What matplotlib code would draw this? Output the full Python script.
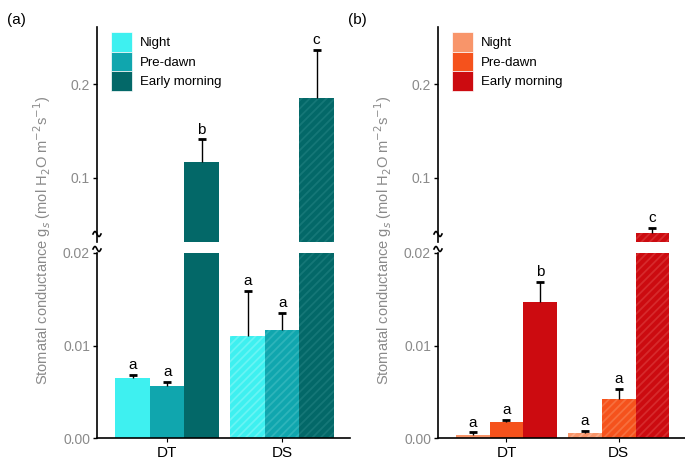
import numpy as np
import matplotlib
matplotlib.use('Agg')
import matplotlib.pyplot as plt
from matplotlib.patches import Patch
from matplotlib.lines import Line2D

plt.rcParams['font.family'] = ['Liberation Sans', 'DejaVu Sans']
plt.rcParams['hatch.linewidth'] = 1.3

# data
groups = ['DT', 'DS']
series = ['Night', 'Pre-dawn', 'Early morning']

a_vals = [[0.0065, 0.0056, 0.117], [0.0110, 0.0117, 0.185]]
a_errs = [[0.0068, 0.0061, 0.141], [0.0159, 0.0135, 0.2366]]
a_letters = [['a', 'a', 'b'], ['a', 'a', 'c']]

b_vals = [[0.0003, 0.0017, 0.0147], [0.0005, 0.0042, 0.0409]]
b_errs = [[0.0006, 0.0020, 0.0169], [0.0008, 0.0053, 0.0462]]
b_letters = [['a', 'a', 'b'], ['a', 'a', 'c']]

a_colors = ['#3ef0f0', '#10a6ae', '#036868']
a_hatch = ['#68f4f4', '#2eb4ba', '#157777']
b_colors = ['#f8956a', '#f5521c', '#cc0b10']
b_hatch = ['#faab88', '#f76f3d', '#d62a2c']

W, H = 685, 466
fig = plt.figure(figsize=(W / 100, H / 100), dpi=100)

LOW = (0, 0.02)
HIGH = (0.0312, 0.2613)
width = 0.3
grey = '#8a8a8a'


def px(x0, x1, y_top, y_bot):
    return [x0 / W, 1 - y_bot / H, (x1 - x0) / W, (y_bot - y_top) / H]


def panel(x0, x1, vals, errs, letters, colors, hatchc, label, label_x):
    ax_lo = fig.add_axes(px(x0, x1, 253, 438))
    ax_hi = fig.add_axes(px(x0, x1, 27, 242))
    for gi, g in enumerate(groups):
        for si in range(3):
            x = gi + (si - 1) * width
            v, e = vals[gi][si], errs[gi][si]
            for ax in (ax_lo, ax_hi):
                if gi == 1:
                    ax.bar(x, v, width, color=colors[si], edgecolor=hatchc[si],
                           linewidth=0, hatch='////')
                else:
                    ax.bar(x, v, width, color=colors[si], linewidth=0)
                ax.vlines(x, v, e, color='black', lw=1)
                ax.plot([x], [e], marker='_', ms=6, mew=2, color='black')
            tax = ax_hi if e > LOW[1] else ax_lo
            tax.annotate(letters[gi][si], (x, e), xytext=(0, 2),
                         textcoords='offset points', ha='center', va='bottom',
                         fontsize=11)
    for ax in (ax_lo, ax_hi):
        ax.set_xlim(-0.61, 1.59)
        ax.spines['top'].set_visible(False)
        ax.spines['right'].set_visible(False)
        ax.spines['left'].set_linewidth(1.2)
        ax.tick_params(axis='y', colors=grey, labelsize=10, length=3,
                       width=1, pad=2)
        ax.tick_params(axis='y', color='black')
    ax_lo.set_ylim(*LOW)
    ax_lo.set_yticks([0, 0.01, 0.02])
    ax_lo.set_yticklabels(['0.00', '0.01', '0.02'])
    ax_lo.set_xticks([0, 1])
    ax_lo.set_xticklabels(groups, fontsize=11)
    ax_lo.tick_params(axis='x', length=3, pad=3)
    ax_lo.spines['bottom'].set_linewidth(1.2)
    ax_hi.set_ylim(*HIGH)
    ax_hi.set_yticks([0.1, 0.2])
    ax_hi.set_yticklabels(['0.1', '0.2'])
    ax_hi.spines['bottom'].set_visible(False)
    ax_hi.set_xticks([])

    # break marks on the axis
    t = np.linspace(-1, 1, 30)
    for yc in (234, 249):
        xs = (x0 + 4 * t) / W
        ys = 1 - (yc + 2.5 * np.sin(np.pi * t)) / H
        fig.add_artist(Line2D(xs, ys, color='black', lw=1.2))

    handles = [Patch(facecolor=c, edgecolor='white', linewidth=0.5) for c in colors]
    ax_hi.legend(handles, series, loc='upper left',
                 bbox_to_anchor=((x0 + 14) / W, 1 - 32 / H),
                 bbox_transform=fig.transFigure, frameon=False,
                 handlelength=1.6, handleheight=1.9, labelspacing=0,
                 handletextpad=0.6, borderaxespad=0, borderpad=0,
                 fontsize=9.5)

    fig.text(label_x / W, 1 - 240 / H,
             'Stomatal conductance g$_s$ (mol H$_2$O m$^{-2}$s$^{-1}$)',
             rotation=90, ha='center', va='center', color=grey, fontsize=10.5)
    fig.text((x0 - 90) / W, 1 - 20 / H, label, ha='left', va='center',
             fontsize=11)


panel(97, 350, a_vals, a_errs, a_letters, a_colors, a_hatch, '(a)', 42)
panel(438, 685, b_vals, b_errs, b_letters, b_colors, b_hatch, '(b)', 383)

fig.savefig('out.png', dpi=100)
